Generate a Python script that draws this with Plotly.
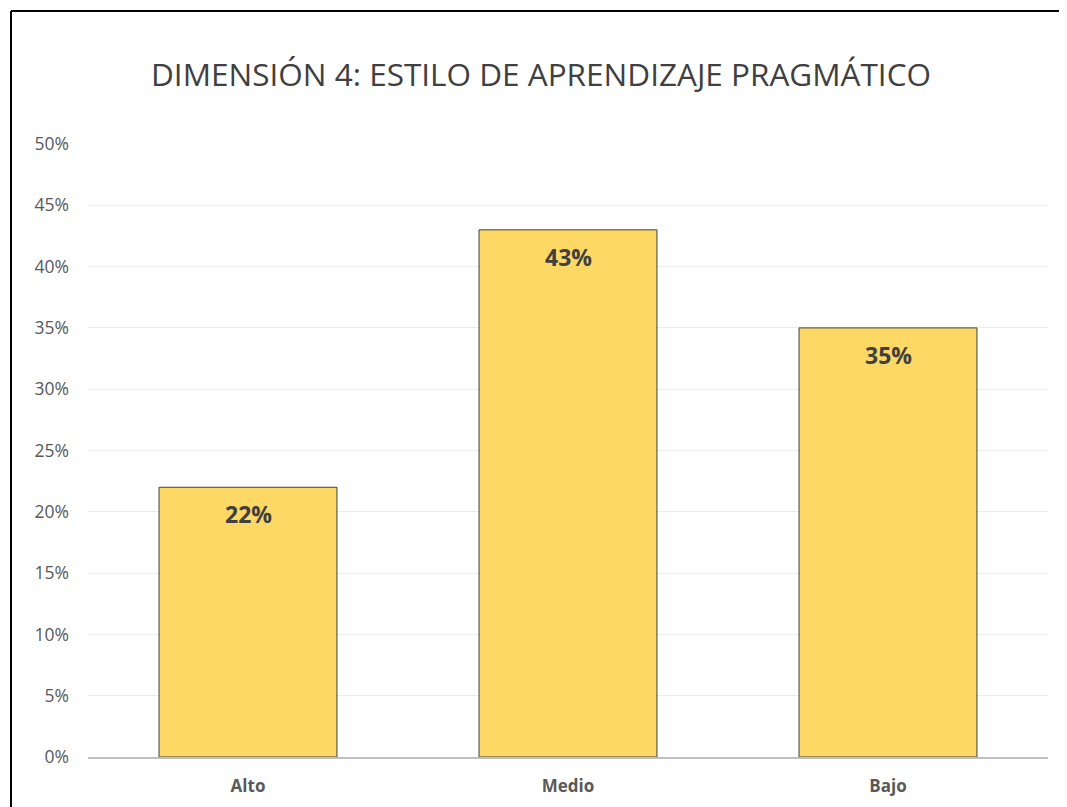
import plotly.graph_objects as go

categories = ["Alto", "Medio", "Bajo"]
values = [0.22, 0.43, 0.35]
labels = ["22%", "43%", "35%"]
tick_vals = [0, 0.05, 0.10, 0.15, 0.20, 0.25, 0.30, 0.35, 0.40, 0.45, 0.50]
tick_text = ["0%", "5%", "10%", "15%", "20%", "25%", "30%", "35%", "40%", "45%", "50%"]
title = "DIMENSIÓN 4: ESTILO DE APRENDIZAJE PRAGMÁTICO"

# page body has an 8px margin; size the figure to fill the rest of the window
OFF = 8
W, H = 1067 - OFF, 807 - OFF
ml, mr, mt, mb = 88 - OFF, 19, 144 - OFF, 50
pw, ph = W - ml - mr, H - mt - mb

fig = go.Figure(go.Bar(
    x=categories, y=values, width=0.556,
    marker=dict(color="#FDD865", line=dict(color="#404040", width=1)),
    hoverinfo="skip",
))

for c, v, t in zip(categories, values, labels):
    fig.add_annotation(x=c, y=v, text="<b>" + t + "</b>", showarrow=False,
                       yanchor="middle", yshift=-27,
                       font=dict(family="Open Sans", size=23, color="#404040"))

# outer border (top and left visible)
bx = (11 - OFF - ml) / pw
by = 1 + (mt - (11 - OFF)) / ph
fig.add_shape(type="line", xref="paper", yref="paper", x0=bx, x1=1 + (mr + 5) / pw, y0=by, y1=by,
              line=dict(color="black", width=2))
fig.add_shape(type="line", xref="paper", yref="paper", x0=bx, x1=bx, y0=by, y1=-(mb + 5) / ph,
              line=dict(color="black", width=2))

fig.update_layout(
    width=W, height=H,
    margin=dict(l=ml, r=mr, t=mt, b=mb),
    paper_bgcolor="white", plot_bgcolor="white",
    title=dict(text=title, x=(541 - OFF) / W, xanchor="center", y=1 - (75 - OFF) / H, yanchor="middle",
               font=dict(family="Open Sans", size=31.5, color="#404040")),
    showlegend=False,
    bargap=0.444,
    xaxis=dict(showline=True, linecolor="#BFBFBF", linewidth=2, ticks="",
               tickfont=dict(family="Open Sans", size=17, color="#595959"),
               tickprefix="<b>", ticksuffix="</b>", ticklabelstandoff=13, automargin=False),
    yaxis=dict(range=[0, 0.5], tickvals=tick_vals, ticktext=tick_text,
               showgrid=True, gridcolor="#EBEBEB", gridwidth=1, zeroline=False,
               tickfont=dict(family="Open Sans", size=17.5, color="#595959"),
               ticklabelstandoff=18, automargin=False),
)

fig.write_html("out.html")
